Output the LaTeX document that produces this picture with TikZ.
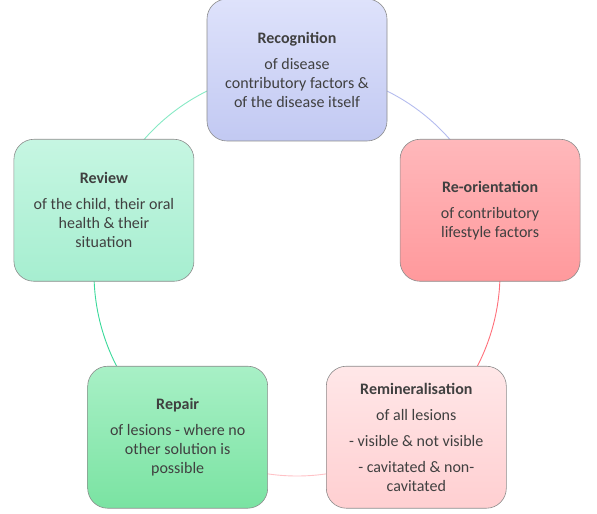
\documentclass[tikz,border=0pt]{standalone}
\usepackage{fontspec}
\setmainfont{Carlito}
\usetikzlibrary{calc, backgrounds}
\definecolor{txtgray}{HTML}{404040}
\definecolor{boxedge}{HTML}{8C8C8C}
\definecolor{recTop}{HTML}{DEE2FB}
\definecolor{recBot}{HTML}{C2C9F2}
\definecolor{reoTop}{HTML}{FFB8BB}
\definecolor{reoBot}{HTML}{FF999C}
\definecolor{remTop}{HTML}{FFE7E8}
\definecolor{remBot}{HTML}{FFCFD1}
\definecolor{repTop}{HTML}{A8F0C6}
\definecolor{repBot}{HTML}{7AE3A2}
\definecolor{revTop}{HTML}{C6F6E2}
\definecolor{revBot}{HTML}{A6EED0}
\definecolor{recLine}{HTML}{B4BCEE}
\definecolor{reoLine}{HTML}{FF6F7A}
\definecolor{remLine}{HTML}{FFC2C6}
\definecolor{repLine}{HTML}{3AD99A}
\definecolor{revLine}{HTML}{86E9C4}

\begin{document}
\begin{tikzpicture}[x=1pt, y=1pt,
    stagebox/.style={draw=boxedge, line width=0.6pt, rounded corners=20pt,
      minimum width=180pt, minimum height=142pt, align=center,
      text=txtgray, font=\fontsize{16}{19}\selectfont},
    ring/.style={line width=0.9pt}]
  \useasboundingbox (0,0) rectangle (597,514);
  \coordinate (mid) at (297,241);

  % the five stages round the cycle
  \node[stagebox, top color=recTop, bottom color=recBot] (recog) at ($(mid)+(90:203)$)
    {\textbf{Recognition}\\[7pt] of disease\\ contributory factors \&\\ of the disease itself};
  \node[stagebox, top color=reoTop, bottom color=reoBot] (reorient) at ($(mid)+(18:203)$)
    {\textbf{Re-orientation}\\[7pt] of contributory\\ lifestyle factors};
  \node[stagebox, top color=remTop, bottom color=remBot] (remin) at ($(mid)+(-54:203)$)
    {\textbf{Remineralisation}\\[7pt] of all lesions\\[7pt] - visible \& not visible\\[7pt] - cavitated \& non-\\ cavitated};
  \node[stagebox, top color=repTop, bottom color=repBot] (repair) at ($(mid)+(-126:203)$)
    {\textbf{Repair}\\[7pt] of lesions - where no\\ other solution is\\ possible};
  \node[stagebox, top color=revTop, bottom color=revBot] (review) at ($(mid)+(162:203)$)
    {\textbf{Review}\\[7pt] of the child, their oral\\ health \& their\\ situation};

  \begin{scope}[on background layer]
    \draw[ring, recLine] (recog.center) arc[start angle=90, end angle=18, radius=203pt];
    \draw[ring, reoLine] (reorient.center) arc[start angle=18, end angle=-54, radius=203pt];
    \draw[ring, remLine] (remin.center) arc[start angle=-54, end angle=-126, radius=203pt];
    \draw[ring, repLine] (repair.center) arc[start angle=-126, end angle=-198, radius=203pt];
    \draw[ring, revLine] (review.center) arc[start angle=162, end angle=90, radius=203pt];
  \end{scope}
\end{tikzpicture}
\end{document}
